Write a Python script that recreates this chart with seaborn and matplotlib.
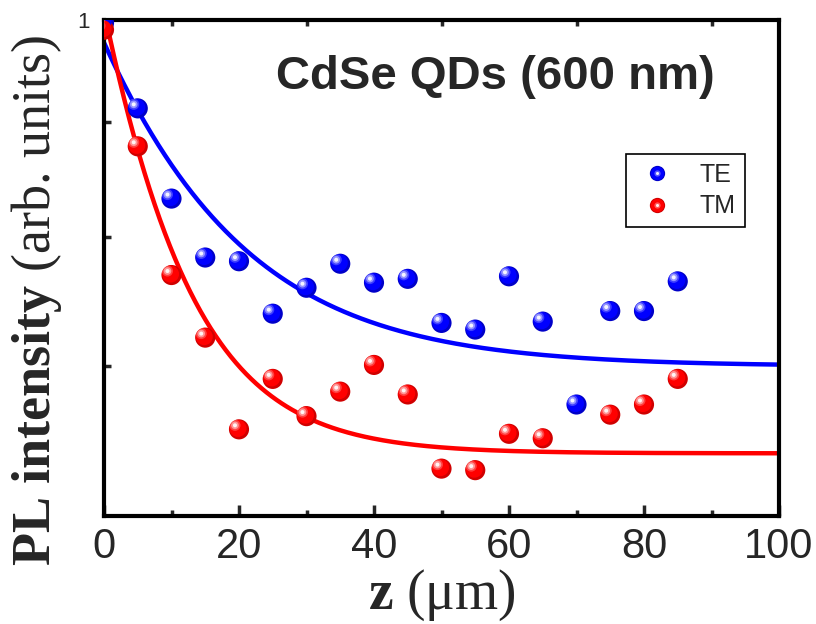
import numpy as np
import pandas as pd
import matplotlib
matplotlib.use("Agg")
import matplotlib.pyplot as plt
import seaborn as sns
from matplotlib.ticker import FixedLocator, NullFormatter, FixedFormatter, MultipleLocator
from matplotlib.transforms import ScaledTranslation
from matplotlib.lines import Line2D
from matplotlib.legend_handler import HandlerTuple

# ---- data ----
z_te = [0, 5, 10, 15, 20, 25, 30, 35, 40, 45, 50, 55, 60, 65, 70, 75, 80, 85]
te = [0.997, 0.913, 0.832, 0.783, 0.780, 0.739, 0.759, 0.778, 0.763, 0.766,
      0.732, 0.727, 0.768, 0.733, 0.673, 0.741, 0.741, 0.764]
z_tm = [0, 5, 10, 15, 20, 25, 30, 35, 40, 45, 50, 55, 60, 65, 75, 80, 85]
tm = [0.990, 0.878, 0.769, 0.721, 0.656, 0.691, 0.665, 0.682, 0.701, 0.680,
      0.630, 0.629, 0.653, 0.650, 0.666, 0.673, 0.691]

# exponential-decay fit parameters (y0, A, t)
te_fit_params = (0.700, 0.277, 18.5)
tm_fit_params = (0.640, 0.370, 11.0)

x_ticks = [0, 20, 40, 60, 80, 100]
x_tick_labels = ["0", "20", "40", "60", "80", "100"]
title_text = "CdSe QDs (600 nm)"

sns.set_theme(style="ticks")
plt.rcParams["font.family"] = ["Liberation Sans", "DejaVu Sans"]
plt.rcParams["mathtext.fontset"] = "custom"
plt.rcParams["mathtext.rm"] = "Liberation Serif"
plt.rcParams["mathtext.bf"] = "Liberation Serif:bold"
plt.rcParams["mathtext.it"] = "Liberation Serif:italic"

fig = plt.figure(figsize=(8.16, 6.24), dpi=100)
ax = fig.add_axes([104/816, 1-516/624, (779-104)/816, (516-20)/624])
ax.set_facecolor("white")

z_fit = np.linspace(0, 100, 400)
def decay(x, p):
    y0, A, t = p
    return y0 + A*np.exp(-np.asarray(x)/t)

fit_df = pd.DataFrame({"z": np.concatenate([z_fit, z_fit]),
                       "v": np.concatenate([decay(z_fit, te_fit_params), decay(z_fit, tm_fit_params)]),
                       "pol": ["TE"]*len(z_fit) + ["TM"]*len(z_fit)})
palette = {"TE": "#0000ff", "TM": "#ff0000"}
sns.lineplot(data=fit_df, x="z", y="v", hue="pol", palette=palette, linewidth=3.2,
             legend=False, ax=ax, zorder=2)

ms = 14.5  # marker diameter in points

def spheres(xs, ys, base, dark):
    sns.scatterplot(x=xs, y=ys, ax=ax, color=dark, s=ms**2, edgecolor="none",
                    zorder=3, legend=False)
    off0 = ScaledTranslation(-ms*0.05/72, ms*0.05/72, fig.dpi_scale_trans)
    ax.scatter(xs, ys, s=(ms*0.85)**2, color=base, edgecolor="none", zorder=4,
               transform=ax.transData + off0)
    off = ScaledTranslation(-ms*0.2/72, ms*0.2/72, fig.dpi_scale_trans)
    for frac, alpha in [(0.55, 0.25), (0.38, 0.45), (0.2, 0.9)]:
        ax.scatter(xs, ys, s=(ms*frac)**2, color="white", alpha=alpha, edgecolor="none",
                   zorder=5, transform=ax.transData + off)

spheres(z_te, te, "#0000ff", "#0000c8")
spheres(z_tm, tm, "#ff0000", "#d00000")

ax.set_yscale("log")
ax.set_xlim(0, 100)
ax.set_ylim(0.6, 1.0)
ax.yaxis.set_major_locator(FixedLocator([1.0]))
ax.yaxis.set_major_formatter(FixedFormatter(["1"]))
ax.yaxis.set_minor_locator(FixedLocator([0.7, 0.8, 0.9]))
ax.yaxis.set_minor_formatter(NullFormatter())
ax.xaxis.set_major_locator(FixedLocator(x_ticks))
ax.xaxis.set_major_formatter(FixedFormatter(x_tick_labels))
ax.xaxis.set_minor_locator(MultipleLocator(10))

for s in ax.spines.values():
    s.set_linewidth(3)
    s.set_color("black")
    s.set_visible(True)

ax.tick_params(axis="x", which="major", direction="in", length=8, width=2.5,
               labelsize=30, pad=8, top=False)
ax.tick_params(axis="x", which="minor", direction="in", length=4, width=2.5, top=True)
ax.tick_params(axis="y", which="major", direction="in", length=0, width=2.5,
               labelsize=16, pad=10, right=False)
ax.tick_params(axis="y", which="minor", direction="in", length=5, width=2.5, right=False)

ax.set_xlabel(r"$\mathbf{z}$ (μm)", fontsize=40, family="Liberation Serif", labelpad=0)
ax.set_ylabel(r"$\mathbf{PL\ intensity}$ (arb. units)", fontsize=39,
              family="Liberation Serif")
ax.yaxis.set_label_coords(-0.059, 0.435)

ax.text(0.58, 0.885, title_text, transform=ax.transAxes, ha="center", va="center",
        fontsize=34, fontweight="bold")

def leg_handle(base, dark):
    h1 = Line2D([], [], marker="o", linestyle="none", markersize=11, color=dark,
                markeredgewidth=0)
    h2 = Line2D([], [], marker="o", linestyle="none", markersize=9.5, color=base,
                markeredgewidth=0)
    h3 = Line2D([], [], marker="o", linestyle="none", markersize=4.5, color="white",
                alpha=0.35, markeredgewidth=0)
    h4 = Line2D([], [], marker="o", linestyle="none", markersize=2.2, color="white",
                alpha=0.9, markeredgewidth=0)
    return (h1, h2, h3, h4)

leg = ax.legend([leg_handle("#0000ff", "#0000c8"), leg_handle("#ff0000", "#d00000")],
                ["TE", "TM"], handler_map={tuple: HandlerTuple(ndivide=1, pad=0)},
                loc="upper left", bbox_to_anchor=((626-104)/675, 1-(154-20)/496),
                fontsize=18, frameon=True, fancybox=False, edgecolor="black",
                framealpha=1, borderpad=0.35, handletextpad=0.8, handlelength=1.8,
                labelspacing=0.3, borderaxespad=0)
leg.get_frame().set_linewidth(1.2)

fig.savefig("out.png", dpi=100, facecolor="white")
